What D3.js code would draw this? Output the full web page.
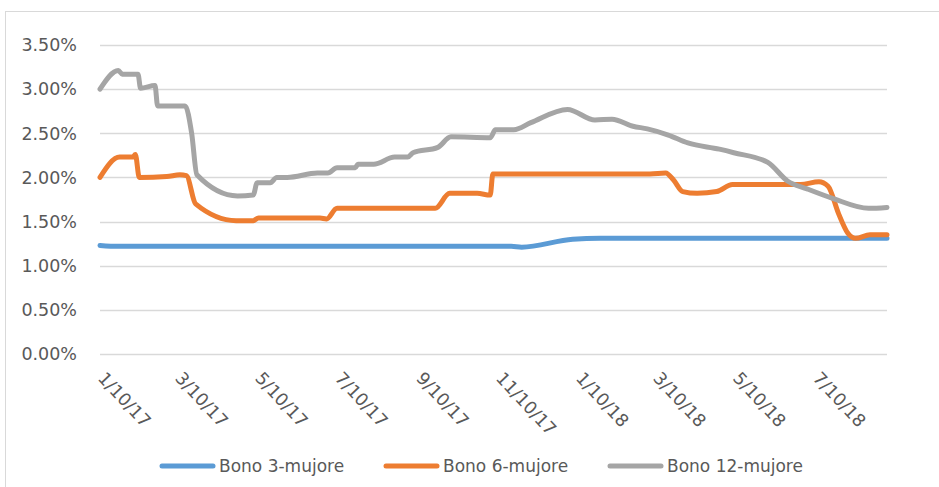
<!DOCTYPE html>
<html>
<head>
<meta charset="utf-8">
<script src="https://cdn.jsdelivr.net/npm/d3@7"></script>
<style>
  body { margin: 0; background: #fff; }
  text { font-family: "DejaVu Sans", sans-serif; fill: #595959; }
</style>
</head>
<body>
<div id="chart"></div>
<script>
// Bond yields (%)
const seriesNames = ["Bono 3-mujore", "Bono 6-mujore", "Bono 12-mujore"];
const seriesColors = ["#5B9BD5", "#ED7D31", "#A5A5A5"];

const bono3 = [
  ["2017-01-10", 1.23], ["2017-01-24", 1.22], ["2017-06-01", 1.22], ["2017-11-20", 1.22],
  ["2017-11-28", 1.21], ["2018-01-06", 1.30], ["2018-01-27", 1.31], ["2018-09-03", 1.31]
];

const bono6 = [
  ["2017-01-10", 2.00], ["2017-01-25", 2.23], ["2017-02-04", 2.23], ["2017-02-06", 2.26],
  ["2017-02-09", 2.00], ["2017-03-02", 2.01], ["2017-03-12", 2.03], ["2017-03-17", 2.02],
  ["2017-03-24", 1.70], ["2017-04-24", 1.51], ["2017-05-07", 1.51], ["2017-05-11", 1.54],
  ["2017-06-27", 1.54], ["2017-07-02", 1.53], ["2017-07-10", 1.65], ["2017-09-23", 1.65],
  ["2017-10-04", 1.82], ["2017-10-25", 1.82], ["2017-11-04", 1.80], ["2017-11-06", 2.04],
  ["2017-11-14", 2.04], ["2018-03-06", 2.04], ["2018-03-18", 2.05], ["2018-03-24", 1.97],
  ["2018-03-31", 1.84], ["2018-04-11", 1.82], ["2018-04-26", 1.84], ["2018-05-08", 1.92],
  ["2018-06-29", 1.92], ["2018-07-13", 1.95], ["2018-07-20", 1.90], ["2018-07-28", 1.59],
  ["2018-08-04", 1.37], ["2018-08-10", 1.31], ["2018-08-21", 1.35], ["2018-09-03", 1.35]
];

const bono12 = [
  ["2017-01-10", 3.00], ["2017-01-24", 3.21], ["2017-01-27", 3.17], ["2017-02-08", 3.17],
  ["2017-02-10", 3.01], ["2017-02-21", 3.04], ["2017-02-23", 2.81], ["2017-03-16", 2.81],
  ["2017-03-21", 2.50], ["2017-03-25", 2.03], ["2017-04-25", 1.79], ["2017-05-07", 1.80],
  ["2017-05-10", 1.94], ["2017-05-20", 1.94], ["2017-05-25", 2.00], ["2017-06-02", 2.00],
  ["2017-06-25", 2.05], ["2017-07-03", 2.05], ["2017-07-10", 2.11], ["2017-07-24", 2.11],
  ["2017-07-26", 2.15], ["2017-08-07", 2.15], ["2017-08-23", 2.23], ["2017-09-02", 2.23],
  ["2017-09-06", 2.28], ["2017-09-25", 2.34], ["2017-10-05", 2.46], ["2017-11-04", 2.45],
  ["2017-11-08", 2.54], ["2017-11-22", 2.54], ["2017-12-05", 2.62], ["2018-01-02", 2.77],
  ["2018-01-23", 2.65], ["2018-02-05", 2.66], ["2018-02-21", 2.58], ["2018-03-04", 2.55],
  ["2018-03-20", 2.48], ["2018-04-04", 2.39], ["2018-04-28", 2.32], ["2018-05-09", 2.28],
  ["2018-06-04", 2.17], ["2018-06-19", 1.96], ["2018-07-04", 1.87], ["2018-07-24", 1.76],
  ["2018-08-20", 1.65], ["2018-09-03", 1.66]
];

const yTicks = [0, 0.5, 1, 1.5, 2, 2.5, 3, 3.5];
const xTickLabels = ["1/10/17", "3/10/17", "5/10/17", "7/10/17", "9/10/17",
                     "11/10/17", "1/10/18", "3/10/18", "5/10/18", "7/10/18"];

const width = 939, height = 487;
const margin = { top: 45, right: 52, bottom: 133, left: 100 };

const parse = d3.timeParse("%Y-%m-%d");
const parseTick = d3.timeParse("%m/%d/%y");
const series = [bono3, bono6, bono12].map((s, i) => ({
  name: seriesNames[i],
  color: seriesColors[i],
  values: s.map(d => ({ date: parse(d[0]), value: d[1] }))
}));

const svg = d3.select("#chart")
  .append("svg")
  .attr("width", width)
  .attr("height", height);

// outer chart border
svg.append("rect")
  .attr("x", 5.5)
  .attr("y", 11.5)
  .attr("width", 1000)
  .attr("height", 1000)
  .attr("fill", "none")
  .attr("stroke", "#D9D9D9");

const x = d3.scaleTime()
  .domain([parse("2017-01-10"), parse("2018-09-03")])
  .range([margin.left, width - margin.right]);

const y = d3.scaleLinear()
  .domain([0, 3.5])
  .range([height - margin.bottom, margin.top]);

// gridlines
svg.append("g")
  .selectAll("line")
  .data(yTicks)
  .join("line")
  .attr("x1", margin.left)
  .attr("x2", width - margin.right)
  .attr("y1", d => Math.round(y(d)) + 0.5)
  .attr("y2", d => Math.round(y(d)) + 0.5)
  .attr("stroke", "#D9D9D9")
  .attr("stroke-width", 1.3);

// y labels
svg.append("g")
  .selectAll("text")
  .data(yTicks)
  .join("text")
  .attr("x", 77)
  .attr("y", d => y(d))
  .attr("dy", "0.36em")
  .attr("text-anchor", "end")
  .style("font-size", "17.5px")
  .text(d => d3.format(".2f")(d) + "%");

// x labels, rotated
svg.append("g")
  .selectAll("text")
  .data(xTickLabels)
  .join("text")
  .attr("transform", d => `translate(${x(parseTick(d)) - 3}, 379) rotate(47)`)
  .attr("text-anchor", "start")
  .style("font-size", "17.5px")
  .text(d => d);

// lines
const line = d3.line()
  .x(d => x(d.date))
  .y(d => y(d.value))
  .curve(d3.curveMonotoneX);

svg.append("g")
  .selectAll("path")
  .data(series)
  .join("path")
  .attr("d", d => line(d.values))
  .attr("fill", "none")
  .attr("stroke", d => d.color)
  .attr("stroke-width", 5)
  .attr("stroke-linejoin", "round")
  .attr("stroke-linecap", "round");

// legend
const legendX = [162, 386, 610];
const legend = svg.append("g")
  .selectAll("g")
  .data(series)
  .join("g")
  .attr("transform", (d, i) => `translate(${legendX[i]}, 466)`);

legend.append("line")
  .attr("x1", 0)
  .attr("x2", 51)
  .attr("stroke", d => d.color)
  .attr("stroke-width", 5)
  .attr("stroke-linecap", "round");

legend.append("text")
  .attr("x", 57)
  .attr("dy", "0.36em")
  .style("font-size", "17px")
  .text(d => d.name);
</script>
</body>
</html>
